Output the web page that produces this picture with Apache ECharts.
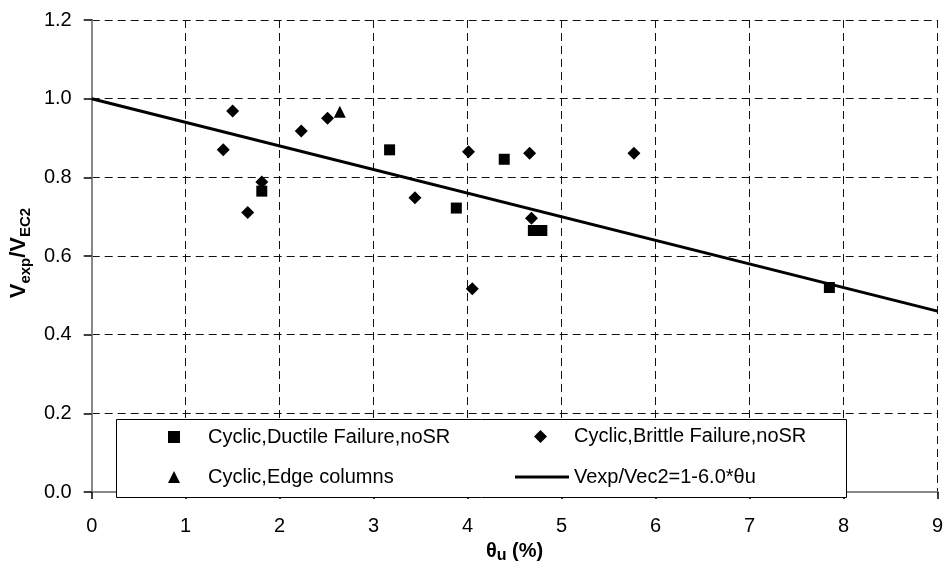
<!DOCTYPE html>
<html>
<head>
<meta charset="utf-8">
<script src="https://cdn.jsdelivr.net/npm/echarts@6/dist/echarts.min.js"></script>
<style>html,body{margin:0;padding:0;background:#fff}#c{width:946px;height:569px}</style>
</head>
<body>
<div id="c"></div>
<script>
const xTicks = [0,1,2,3,4,5,6,7,8,9];
const yTicks = ['0.0','0.2','0.4','0.6','0.8','1.0','1.2'];
const seriesNames = ['Cyclic,Ductile Failure,noSR','Cyclic,Brittle Failure,noSR','Cyclic,Edge columns','Vexp/Vec2=1-6.0*θu'];
const ductile = [[1.81,0.765],[3.17,0.870],[3.88,0.722],[4.39,0.846],[4.70,0.665],[4.79,0.665],[7.85,0.520]];
const brittle = [[1.40,0.870],[1.50,0.969],[1.66,0.711],[1.81,0.788],[2.23,0.918],[2.51,0.950],[3.44,0.748],[4.01,0.865],[4.05,0.517],[4.66,0.861],[4.68,0.696],[5.77,0.861]];
const edge = [[2.64,0.967]];
const fitLine = [[0,1.0],[9,0.46]];

const font = "'Liberation Sans', Arial, sans-serif";
const legendText = {fontFamily:font,fontSize:20,color:'#000',lineHeight:20};
const chart = echarts.init(document.getElementById('c'), null, {renderer:'canvas'});
chart.setOption({
  animation:false,
  backgroundColor:'#fff',
  textStyle:{fontFamily:font},
  grid:{left:91.5, right:8.3, top:20, bottom:64.7, containLabel:false},
  xAxis:[{
    type:'value', min:0, max:9, interval:1,
    name:'{b|θ}{s|u}{b| (%)}', nameLocation:'middle', nameGap:33,
    nameTextStyle:{rich:{
      b:{fontFamily:font,fontSize:20,fontWeight:'bold',color:'#000',lineHeight:26,verticalAlign:'middle'},
      s:{fontFamily:font,fontSize:16,fontWeight:'bold',color:'#000',lineHeight:15,verticalAlign:'bottom'}
    }},
    axisLine:{show:true,onZero:false,lineStyle:{color:'#000',width:2}},
    axisTick:{show:true,inside:false,length:7,lineStyle:{color:'#000',width:1.5}},
    axisLabel:{margin:24,fontFamily:font,fontSize:20,color:'#000',formatter:(v)=>String(xTicks[Math.round(v)])},
    splitLine:{show:true,lineStyle:{color:'#111',width:1,type:[8,5]}}
  },{
    type:'value', min:0, max:9, interval:1, position:'top',
    axisLine:{show:true,lineStyle:{color:'#888',width:2}},
    axisTick:{show:false}, axisLabel:{show:false}, splitLine:{show:false}
  }],
  yAxis:[{
    type:'value', min:0, max:1.2, interval:0.2,
    name:'{b|V}{s|exp}{b|/V}{s|EC2}', nameLocation:'middle', nameGap:58, nameRotate:90,
    nameTextStyle:{padding:[0,0,0,6],rich:{
      b:{fontFamily:font,fontSize:22,fontWeight:'bold',color:'#000',lineHeight:28,verticalAlign:'middle'},
      s:{fontFamily:font,fontSize:15,fontWeight:'bold',color:'#000',lineHeight:15,verticalAlign:'bottom'}
    }},
    axisLine:{show:true,onZero:false,lineStyle:{color:'#000',width:2}},
    axisTick:{show:true,inside:false,length:8,lineStyle:{color:'#000',width:1.5}},
    axisLabel:{margin:20,fontFamily:font,fontSize:20,color:'#000',formatter:(v)=>yTicks[Math.round(v*5)]},
    splitLine:{show:true,lineStyle:{color:'#111',width:1,type:[8,5]}}
  },{
    type:'value', min:0, max:1.2, interval:0.2, position:'right',
    axisLine:{show:true,lineStyle:{color:'#888',width:2}},
    axisTick:{show:false}, axisLabel:{show:false}, splitLine:{show:false}
  }],
  graphic:[{
    type:'rect', z:3,
    shape:{x:116.5,y:419.5,width:730,height:78},
    style:{fill:'#fff',stroke:'#000',lineWidth:1}
  }],
  legend:[{
    left:168, top:427, orient:'vertical', padding:0, itemGap:20,
    itemWidth:12, itemHeight:12, z:5,
    textStyle:Object.assign({padding:[0,0,0,23]},legendText),
    data:[{name:seriesNames[0],icon:'rect'},{name:seriesNames[2],icon:'triangle'}]
  },{
    left:534, top:426.5, orient:'vertical', padding:0,
    itemWidth:13, itemHeight:13, z:5,
    textStyle:Object.assign({padding:[0,0,0,22]},legendText),
    data:[{name:seriesNames[1],icon:'diamond'}]
  },{
    left:515, top:467, orient:'vertical', padding:0,
    itemWidth:54, itemHeight:3, z:5,
    textStyle:legendText,
    data:[{name:seriesNames[3],icon:'rect'}]
  }],
  series:[
    {name:seriesNames[0],type:'scatter',data:ductile,symbol:'rect',symbolSize:11,itemStyle:{color:'#000',opacity:1},z:4},
    {name:seriesNames[1],type:'scatter',data:brittle,symbol:'diamond',symbolSize:13,itemStyle:{color:'#000',opacity:1},z:4},
    {name:seriesNames[2],type:'scatter',data:edge,symbol:'triangle',symbolSize:12,itemStyle:{color:'#000',opacity:1},z:4},
    {name:seriesNames[3],type:'line',data:fitLine,symbol:'none',lineStyle:{color:'#000',width:3},itemStyle:{color:'#000'},z:3}
  ]
});
</script>
</body>
</html>
